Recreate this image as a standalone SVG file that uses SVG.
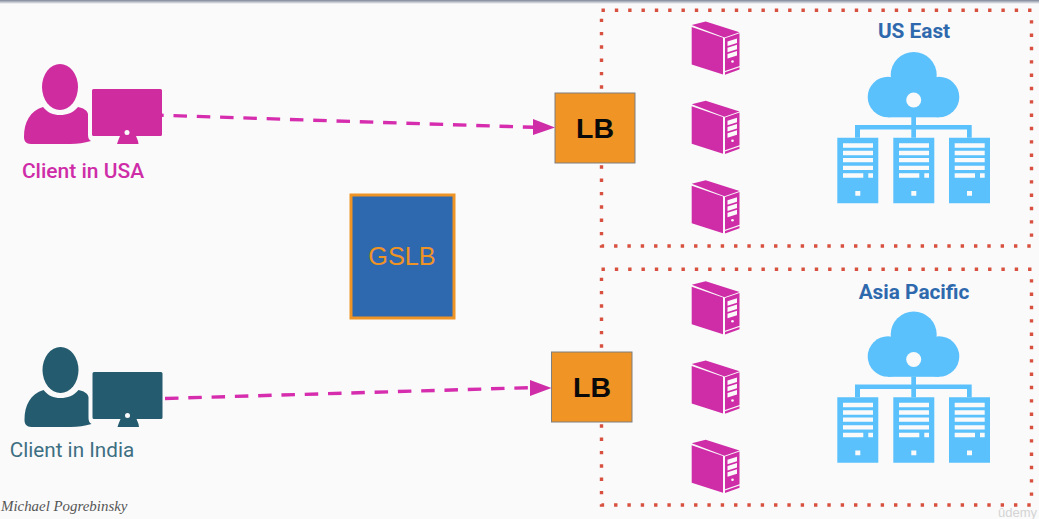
<svg xmlns="http://www.w3.org/2000/svg" width="1039" height="519" viewBox="0 0 1039 519">
<style>
.zone{fill:none;stroke:#d8503f;stroke-width:3.400;stroke-dasharray:3.400 9.930}
.lb{fill:#f09425;stroke:#7f7f7f;stroke-width:1}
.lbt{font:bold 28.5px "Liberation Sans",Arial,sans-serif;fill:#0a0a0a;text-anchor:middle}
.ttl{font:bold 20.800px Roboto,"Liberation Sans",sans-serif;fill:#2f69ad;text-anchor:middle}
.flow{fill:none;stroke:#d62cae;stroke-width:3.400;stroke-dasharray:13.500 9.800}
.hd{fill:#cf2ca8}
</style>
<defs>
<linearGradient id="topbar" x1="0" y1="0" x2="0" y2="1"><stop offset="0" stop-color="#7d8698"/><stop offset="1" stop-color="#fafafa"/></linearGradient>
<g id="user">
<ellipse cx="60" cy="87" rx="18" ry="23"/>
<path d="M43 107C48 113 53 115 60 115C67 115 73 113 78 107C83 108 87 110 88 114V135C88 138 89 140 91 141C84 143 78 144 70 144H31C26 144 24 141 24 137C24 122 30 111 43 107Z"/>
<path d="M93.500 89H160.500A1.500 1.500 0 0 1 162 90.500V134.500A1.500 1.500 0 0 1 160.500 136H136L138 141L138.500 144H117L118 141L120 136H93.500A1.500 1.500 0 0 1 92 134.500V90.500A1.500 1.500 0 0 1 93.500 89Z"/>
<circle cx="127" cy="132.500" r="2.500" fill="#fafafa"/>
</g>
<g id="tower">
<path d="M691.700 25L705.700 21.500L739.500 32.300L724.500 37.500Z"/>
<path d="M691.700 27L723 37.800V74.500L691.700 64.500Z"/>
<path d="M725 38.300L739.500 33.300V66L725 71Z"/>
<path d="M725 72.300L739.500 67.300V69.500L725 74.700Z"/>
<path d="M727.500 41.500L737 38.500V43L727.500 46ZM727.500 47.800L737 44.800V49.300L727.500 52.300ZM727.500 54L737 51V55.500L727.500 58.500Z" fill="#fafafa"/>
<circle cx="732.500" cy="61.500" r="1.300" fill="#fafafa"/>
</g>
<g id="rack">
<path fill-rule="evenodd" d="M837.300 137.700H878.300V203.300H837.300ZM843 143.300V147.700H873V143.300ZM843 150.700V155.300H873V150.700ZM843 158V162.300H873V158ZM843 165.700V170H873V165.700ZM843 173.300V177.700H863.300V173.300ZM868.300 173.300V177.700H873V173.300ZM855.300 191V195.700H860.300V191Z"/>
</g>
<g id="cloud" fill="#5bc1fd">
<circle cx="913.700" cy="75" r="23"/>
<circle cx="888" cy="97" r="20.300"/>
<circle cx="939" cy="97" r="20.300"/>
<rect x="888" y="80" width="51" height="37.300"/>
<circle cx="913.700" cy="100" r="7.500" fill="#fafafa"/>
<path d="M911.300 117H916V125H971.700V137.700H967V129.500H916V137.700H911.300V129.500H860V137.700H855V125H911.300Z"/>
<use href="#rack"/>
<use href="#rack" x="56"/>
<use href="#rack" x="111.700"/>
</g>
</defs>
<rect id="background" width="1039" height="519" fill="#fafafa"/>
<rect id="top-edge" width="1039" height="4" fill="url(#topbar)"/>

<g id="zone-us-east">
<rect class="zone" x="601.500" y="10.300" width="430" height="235.700"/>
<g fill="#cf2ca8"><use href="#tower"/><use href="#tower" y="79.300"/><use href="#tower" y="158.700"/></g>
<use href="#cloud"/>
<text class="ttl" x="914" y="38">US East</text>
</g>
<g id="zone-asia-pacific">
<rect class="zone" x="601.500" y="269.300" width="430" height="235.700"/>
<g fill="#cf2ca8"><use href="#tower" y="259.700"/><use href="#tower" y="339"/><use href="#tower" y="418.300"/></g>
<use href="#cloud" y="259.500"/>
<text class="ttl" x="914" y="299" font-size="21">Asia Pacific</text>
</g>

<g id="client-usa">
<use href="#user" fill="#cf2ca0"/>
<text x="83" y="178" font-family="Roboto,'Liberation Sans',sans-serif" font-weight="500" font-size="21" fill="#cf2ca8" text-anchor="middle">Client in USA</text>
</g>
<g id="client-india">
<use href="#user" fill="#245b6e" x="0.500" y="283"/>
<text x="72" y="457" font-family="Roboto,'Liberation Sans',sans-serif" font-size="20.700" fill="#3d6f82" text-anchor="middle">Client in India</text>
</g>

<g id="gslb">
<rect x="351" y="195" width="103" height="123" fill="#2e68ae" stroke="#ee9325" stroke-width="3"/>
<text x="402" y="265" font-family="'Liberation Sans',Arial,sans-serif" font-size="25.300" fill="#ee9325" text-anchor="middle">GSLB</text>
</g>
<g id="lb-us">
<rect class="lb" x="555" y="93" width="80" height="70"/>
<text class="lbt" x="595" y="138">LB</text>
</g>
<g id="lb-asia">
<rect class="lb" x="551.500" y="352" width="80.500" height="70"/>
<text class="lbt" x="592" y="397">LB</text>
</g>

<g id="connectors">
<path class="flow" stroke-dashoffset="11.800" d="M162 115.300L534 127.300"/>
<path class="hd" d="M533 119L555 127.500L533 135Z"/>
<path class="flow" d="M165 398.500L531 387.600"/>
<path class="hd" d="M530 380L551.500 388L530 396Z"/>
</g>

<text id="credit" x="1" y="511" font-family="'Liberation Serif','Times New Roman',serif" font-style="italic" font-size="14.900" fill="#555">Michael Pogrebinsky</text>
<text id="watermark" x="998" y="517" font-family="'Liberation Sans',Arial,sans-serif" font-size="13" fill="#d4d4d4">ûdemy</text>
</svg>
